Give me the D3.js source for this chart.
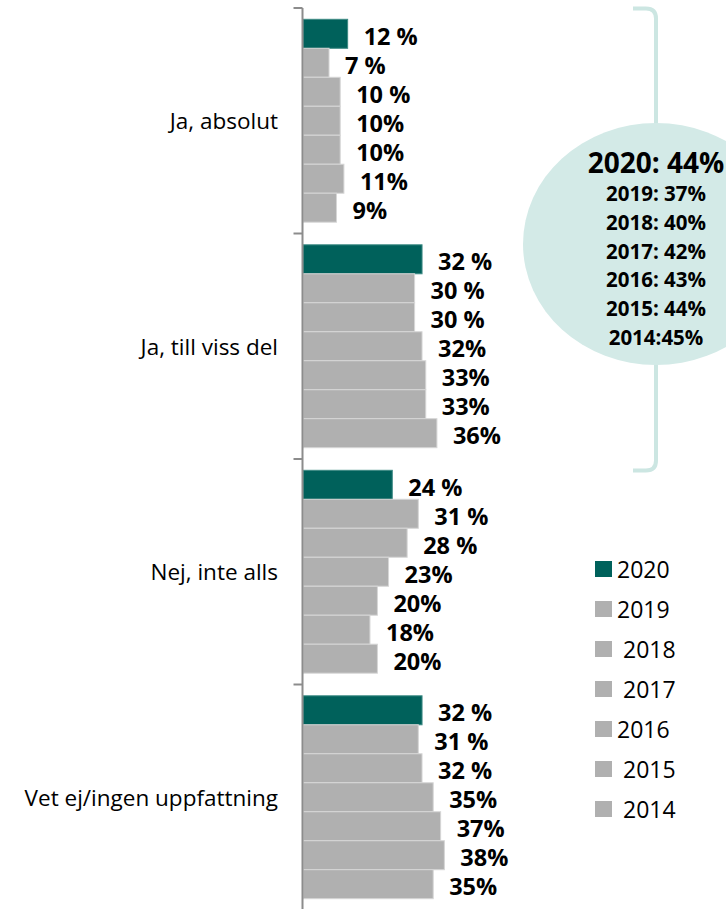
<!DOCTYPE html>
<html>
<head>
<meta charset="utf-8">
<script src="https://cdn.jsdelivr.net/npm/d3@7"></script>
<style>
  html, body { margin: 0; padding: 0; background: #fff; }
  svg { display: block; }
  text { font-family: "Open Sans", sans-serif; }
</style>
</head>
<body>
<svg id="chart" width="726" height="909"></svg>
<script>
// ---- data ----
const categories = ["Ja, absolut", "Ja, till viss del", "Nej, inte alls", "Vet ej/ingen uppfattning"];
const years = ["2020", "2019", "2018", "2017", "2016", "2015", "2014"];
const values = {
  "Ja, absolut":              [12, 7, 10, 10, 10, 11, 9],
  "Ja, till viss del":        [32, 30, 30, 32, 33, 33, 36],
  "Nej, inte alls":           [24, 31, 28, 23, 20, 18, 20],
  "Vet ej/ingen uppfattning": [32, 31, 32, 35, 37, 38, 35]
};
const valueLabels = {
  "Ja, absolut":              ["12 %", "7 %", "10 %", "10%", "10%", "11%", "9%"],
  "Ja, till viss del":        ["32 %", "30 %", "30 %", "32%", "33%", "33%", "36%"],
  "Nej, inte alls":           ["24 %", "31 %", "28 %", "23%", "20%", "18%", "20%"],
  "Vet ej/ingen uppfattning": ["32 %", "31 %", "32 %", "35%", "37%", "38%", "35%"]
};
const legendLabels = ["2020", "2019", " 2018", " 2017", "2016", " 2015", " 2014"];
const summaryHeadline = "2020: 44%";
const summaryLines = ["2019: 37%", "2018: 40%", "2017: 42%", "2016: 43%", "2015: 44%", "2014:45%"];

// ---- styling ----
const teal = "#00615b";
const gray = "#b0b0b0";
const svg = d3.select("#chart");

const axisX = 302.5;
const y = d3.scaleBand().domain(categories).range([8, 910]);
const yInner = d3.scaleBand().domain(years).range([0, y.bandwidth()]).paddingOuter(0.39);
const x = d3.scaleLinear().domain([0, 50]).range([axisX + 0.5, axisX + 0.5 + 186]);

// bars
const groups = svg.selectAll("g.cat").data(categories).join("g")
  .attr("class", "cat")
  .attr("transform", d => `translate(0,${y(d)})`);

const rows = c => years.map((yr, i) => ({ c, yr, v: values[c][i], lab: valueLabels[c][i] }));

groups.selectAll("rect").data(rows)
  .join("rect")
  .attr("x", x(0))
  .attr("y", d => yInner(d.yr))
  .attr("width", d => x(d.v) - x(0))
  .attr("height", yInner.bandwidth())
  .attr("fill", d => d.yr === "2020" ? teal : gray)
  .attr("stroke", d => d.yr === "2020" ? "#3d8a84" : "#d6d6d6")
  .attr("stroke-width", 1);

groups.selectAll("text.val").data(rows)
  .join("text")
  .attr("class", "val")
  .attr("x", d => x(d.v) + 16)
  .attr("y", d => yInner(d.yr) + yInner.bandwidth() / 2 + 2)
  .attr("dominant-baseline", "central")
  .attr("font-size", 23.5)
  .attr("font-weight", 700)
  .attr("fill", "#000")
  .text(d => d.lab);

// category labels
svg.selectAll("text.catlab").data(categories).join("text")
  .attr("class", "catlab")
  .attr("x", 278)
  .attr("y", d => y(d) + y.bandwidth() / 2)
  .attr("text-anchor", "end")
  .attr("dominant-baseline", "central")
  .attr("font-size", 22.5)
  .attr("fill", "#000")
  .text(d => d);

// axis
svg.append("line").attr("x1", axisX).attr("x2", axisX).attr("y1", 8).attr("y2", 909)
  .attr("stroke", "#8c8c8c").attr("stroke-width", 2);
const tickYs = categories.map(c => y(c));
svg.selectAll("line.tick").data(tickYs).join("line")
  .attr("class", "tick")
  .attr("x1", axisX - 9).attr("x2", axisX)
  .attr("y1", d => d).attr("y2", d => d)
  .attr("stroke", "#8c8c8c").attr("stroke-width", 2);

// bracket + ellipse
const bx = 656, bTop = 8.5, bBot = 470.5, hook = 23, r = 10;
svg.append("path")
  .attr("d", `M${bx - hook},${bTop} L${bx - r},${bTop} Q${bx},${bTop} ${bx},${bTop + r} L${bx},${bBot - r} Q${bx},${bBot} ${bx - r},${bBot} L${bx - hook},${bBot}`)
  .attr("fill", "none").attr("stroke", "#cce6e2").attr("stroke-width", 4);

svg.append("ellipse")
  .attr("cx", bx).attr("cy", 244).attr("rx", 133).attr("ry", 121)
  .attr("fill", "#d3eae7");

svg.append("text")
  .attr("x", bx).attr("y", 162)
  .attr("text-anchor", "middle").attr("dominant-baseline", "central")
  .attr("font-size", 28).attr("font-weight", 700)
  .text(summaryHeadline);

svg.selectAll("text.sum").data(summaryLines).join("text")
  .attr("class", "sum")
  .attr("x", bx).attr("y", (d, i) => 193 + i * 28.8)
  .attr("text-anchor", "middle").attr("dominant-baseline", "central")
  .attr("font-size", 20.5).attr("font-weight", 700)
  .text(d => d);

// legend
const leg = svg.selectAll("g.leg").data(years).join("g")
  .attr("class", "leg")
  .attr("transform", (d, i) => `translate(595,${569 + i * 40})`);
leg.append("rect").attr("x", 0).attr("y", -8).attr("width", 17).attr("height", 16)
  .attr("fill", d => d === "2020" ? teal : gray);
leg.append("text")
  .attr("x", 22).attr("y", 0)
  .attr("dominant-baseline", "central")
  .attr("font-size", 23)
  .style("white-space", "pre")
  .text((d, i) => legendLabels[i]);
</script>
</body>
</html>
